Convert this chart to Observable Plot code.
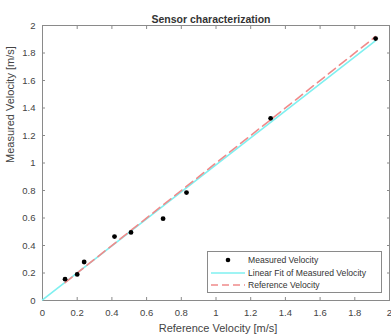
<!DOCTYPE html>
<html>
<head>
<meta charset="utf-8">
<script src="https://cdn.jsdelivr.net/npm/d3@7"></script>
<script src="https://cdn.jsdelivr.net/npm/@observablehq/plot@0.6"></script>
<style>
  html, body { margin: 0; padding: 0; background: #fff; }
  #wrap { position: relative; width: 391px; height: 335px; font-family: "Liberation Sans", Arial, sans-serif; }
  #legend { position: absolute; left: 207px; top: 251px; width: 175px; height: 42px; border: 1px solid #8a8a8a; background: #fff; box-sizing: border-box; font-size: 8.6px; color: #333; }
  .row { position: absolute; left: 0; height: 12px; display: flex; align-items: center; white-space: nowrap; }
  .row svg { width: 34px; height: 10px; margin-left: 3px; margin-right: 3px; }
</style>
</head>
<body>
<div id="wrap"></div>
<script>
const title = "Sensor characterization";
const xLabel = "Reference Velocity [m/s]";
const yLabel = "Measured Velocity [m/s]";
const tickValues = [0, 0.2, 0.4, 0.6, 0.8, 1, 1.2, 1.4, 1.6, 1.8, 2];
const tickLabels = ["0", "0.2", "0.4", "0.6", "0.8", "1", "1.2", "1.4", "1.6", "1.8", "2"];

const refVel = [0.13, 0.20, 0.24, 0.415, 0.51, 0.695, 0.83, 1.315, 1.92];
const measVel = [0.155, 0.19, 0.28, 0.465, 0.495, 0.595, 0.785, 1.325, 1.905];

const fitX = [0, 1.92];
const fitY = [0.005, 1.89];
const refLineX = [0.13, 1.92];
const refLineY = [0.13, 1.92];

const seriesNames = ["Measured Velocity", "Linear Fit of Measured Velocity", "Reference Velocity"];
const fitColor = "#7ff0f0";
const refColor = "#f08a8a";

const points = refVel.map((x, i) => ({x, y: measVel[i]}));
const fit = fitX.map((x, i) => ({x, y: fitY[i]}));
const ref = refLineX.map((x, i) => ({x, y: refLineY[i]}));
const fmt = d => tickLabels[tickValues.indexOf(d)];

const axisColor = "#8a8a8a";
const textColor = "#444";

const chart = Plot.plot({
  width: 391,
  height: 335,
  marginTop: 25,
  marginLeft: 42,
  marginRight: 2,
  marginBottom: 35,
  style: {fontFamily: "'Liberation Sans', Arial, sans-serif", fontSize: "9.5px", color: textColor, background: "#fff"},
  x: {domain: [0, 2]},
  y: {domain: [0, 2]},
  marks: [
    Plot.frame({stroke: axisColor}),
    Plot.axisX({anchor: "bottom", ticks: tickValues, tickFormat: fmt, tickSize: -3, tickPadding: 12, stroke: axisColor, fill: textColor, label: null}),
    Plot.axisX({anchor: "top", ticks: tickValues, tickFormat: () => "", tickSize: -3, stroke: axisColor, label: null}),
    Plot.axisY({anchor: "left", ticks: tickValues, tickFormat: fmt, tickSize: -3, tickPadding: 10, stroke: axisColor, fill: textColor, label: null}),
    Plot.axisY({anchor: "right", ticks: tickValues, tickFormat: () => "", tickSize: -3, stroke: axisColor, label: null}),
    Plot.line(fit, {x: "x", y: "y", stroke: fitColor, strokeWidth: 1.6}),
    Plot.line(ref, {x: "x", y: "y", stroke: refColor, strokeWidth: 1.6, strokeDasharray: "9,5"}),
    Plot.dot(points, {x: "x", y: "y", r: 2.4, fill: "#000"}),
    Plot.text([title], {frameAnchor: "top", dy: -10, dx: -5, fontWeight: "bold", fontSize: 10.5, fill: "#333"}),
    Plot.text([xLabel], {frameAnchor: "bottom", dy: 28, dx: 2, lineAnchor: "middle", fontSize: 11, fill: textColor}),
    Plot.text([yLabel], {frameAnchor: "left", dx: -32, rotate: -90, fontSize: 11, fill: textColor})
  ]
});

const wrap = document.getElementById("wrap");
wrap.appendChild(chart);

const legend = document.createElement("div");
legend.id = "legend";
const swatches = [
  `<circle cx="17" cy="5" r="2.3" fill="#000"/>`,
  `<line x1="0" y1="5" x2="34" y2="5" stroke="${fitColor}" stroke-width="1.6"/>`,
  `<line x1="0" y1="5" x2="34" y2="5" stroke="${refColor}" stroke-width="1.6" stroke-dasharray="7,4"/>`
];
seriesNames.forEach((name, i) => {
  const row = document.createElement("div");
  row.className = "row";
  row.style.top = (2 + i * 12.7) + "px";
  row.innerHTML = `<svg viewBox="0 0 34 10">${swatches[i]}</svg><span>${name}</span>`;
  legend.appendChild(row);
});
wrap.appendChild(legend);
</script>
</body>
</html>
